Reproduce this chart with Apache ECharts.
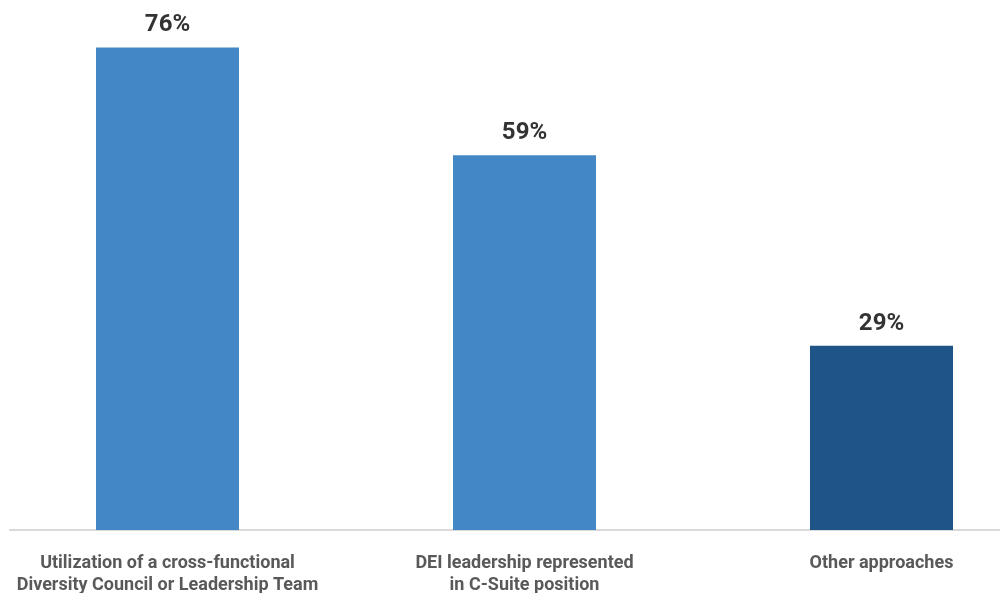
<!DOCTYPE html>
<html>
<head>
<meta charset="utf-8">
<script src="https://cdn.jsdelivr.net/npm/echarts@6/dist/echarts.min.js"></script>
<style>html,body{margin:0;padding:0;background:#fff}#c{width:1000px;height:593px}</style>
</head>
<body>
<div id="c"></div>
<script>
var categories = [
  "Utilization of a cross-functional\nDiversity Council or Leadership Team",
  "DEI leadership represented\nin C-Suite position",
  "Other approaches"
];
var values = [76, 59, 29];
var barColors = ["#4487C7", "#4487C7", "#1F5488"];

var chart = echarts.init(document.getElementById('c'), null, {renderer: 'canvas'});
chart.setOption({
  animation: false,
  backgroundColor: '#ffffff',
  grid: [
    {left: -11, width: 1071, top: 22, bottom: 63, outerBoundsMode: 'none', containLabel: false},
    {left: 10, right: 0, top: 22, bottom: 63, outerBoundsMode: 'none', containLabel: false}
  ],
  xAxis: [
    {
      type: 'category', gridIndex: 0, data: categories,
      axisLine: {show: false}, axisTick: {show: false},
      axisLabel: {
        interval: 0, margin: 22, fontFamily: 'Roboto', fontWeight: 'bold',
        fontSize: 18, lineHeight: 22, color: '#595959', align: 'center',
        hideOverlap: false
      }
    },
    {
      type: 'category', gridIndex: 1, data: [''],
      axisLine: {show: true, lineStyle: {color: '#D9D9D9', width: 2}},
      axisTick: {show: false}, axisLabel: {show: false}
    }
  ],
  yAxis: [
    {type: 'value', gridIndex: 0, min: 0, max: 80, show: false, splitLine: {show: false}},
    {type: 'value', gridIndex: 1, min: 0, max: 80, show: false, splitLine: {show: false}}
  ],
  series: [{
    type: 'bar', xAxisIndex: 0, yAxisIndex: 0,
    barWidth: 143,
    data: values.map(function (v, i) { return {value: v, itemStyle: {color: barColors[i]}}; }),
    label: {
      show: true, position: 'top', distance: 10,
      formatter: '{c}%', fontFamily: 'Roboto', fontWeight: 'bold',
      fontSize: 24, color: '#333333'
    }
  }]
});
</script>
</body>
</html>
